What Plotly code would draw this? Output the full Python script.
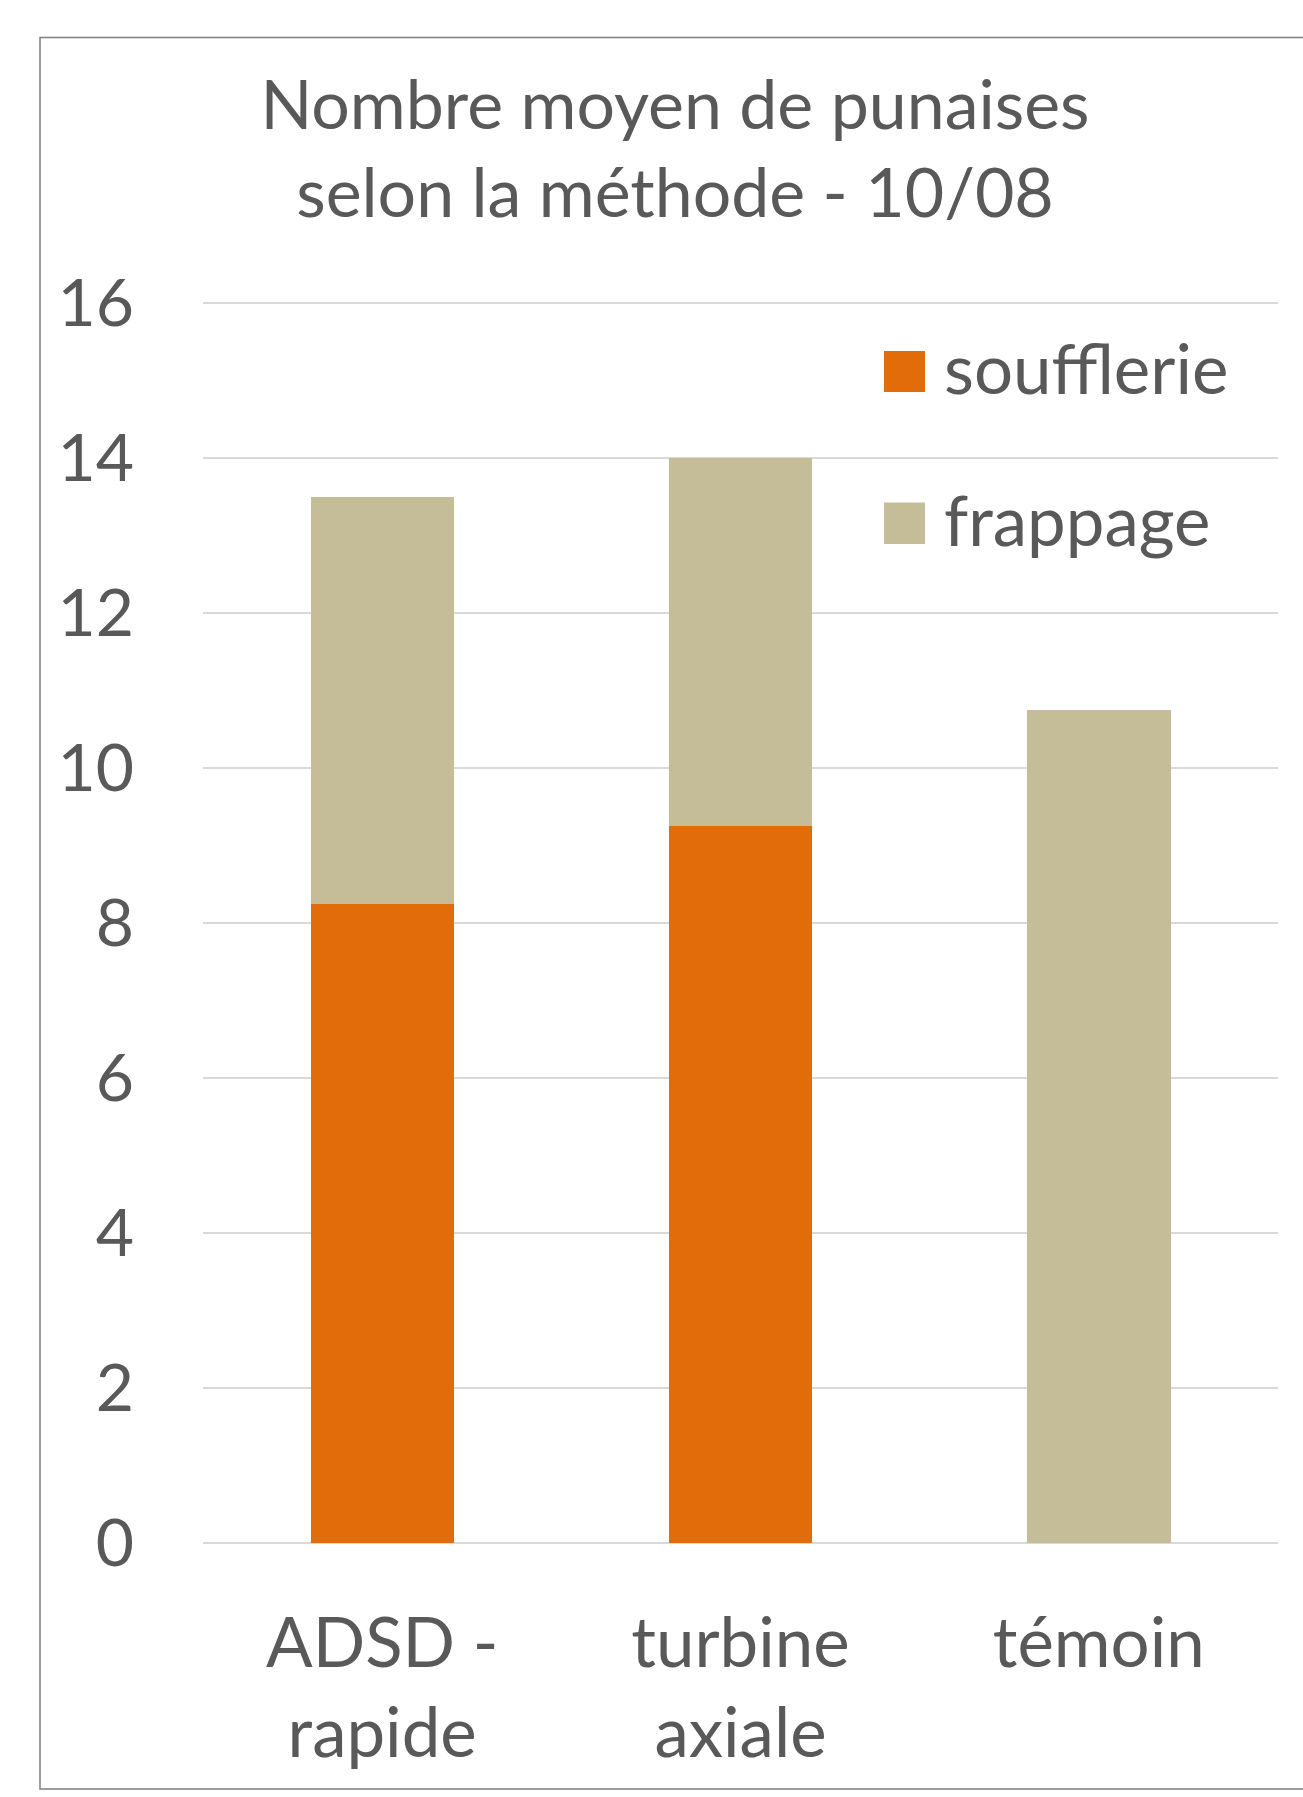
import plotly.graph_objects as go

# -----------------------------
# Data
# -----------------------------
categories = ["ADSD -<br>rapide", "turbine<br>axiale", "témoin"]
soufflerie = [8.25, 9.25, 0]
frappage = [5.25, 4.75, 10.75]

series_names = ["soufflerie", "frappage"]
series_colors = ["#E36C0A", "#C4BD97"]

y_ticks = [0, 2, 4, 6, 8, 10, 12, 14, 16]

TEXT_COLOR = "#595959"
FONT = "Lato"

# page geometry (pixels)
W, H = 1303, 1797
L, R, T, B = 203, 25, 299, 254
PW, PH = W - L - R, H - T - B


def px_x(x):
    return (x - L) / PW


def px_y(y):
    return (H - B - y) / PH


def main():
    fig = go.Figure()

    for name, vals, color in zip(series_names, [soufflerie, frappage], series_colors):
        fig.add_trace(
            go.Bar(
                x=categories,
                y=vals,
                name=name,
                marker=dict(color=color, line=dict(width=0)),
                showlegend=False,
            )
        )

    # frame around the whole chart
    fig.add_shape(
        type="rect", xref="paper", yref="paper",
        x0=px_x(40), x1=px_x(1320), y0=px_y(1789), y1=px_y(37.5),
        line=dict(color="#7F7F7F", width=1.5), fillcolor="rgba(0,0,0,0)",
        layer="below",
    )

    # legend drawn by hand (large square swatches)
    legend_rows = [(351, 392), (502.6, 544)]
    for (top, bot), name, color in zip(legend_rows, series_names, series_colors):
        fig.add_shape(
            type="rect", xref="paper", yref="paper",
            x0=px_x(884), x1=px_x(925), y0=px_y(bot), y1=px_y(top),
            line=dict(width=0), fillcolor=color,
        )
        fig.add_annotation(
            xref="paper", yref="paper",
            x=px_x(942), y=px_y((top + bot) / 2 - 4),
            xanchor="left", yanchor="middle",
            text=name, showarrow=False,
            font=dict(family=FONT, size=69, color=TEXT_COLOR),
        )

    fig.update_layout(
        width=W,
        height=H,
        barmode="stack",
        bargap=0.6,
        paper_bgcolor="white",
        plot_bgcolor="white",
        margin=dict(l=L, r=R, t=T, b=B),
        font=dict(family=FONT, color=TEXT_COLOR),
        title=dict(
            text="Nombre moyen de punaises<br>selon la méthode - 10/08",
            x=675 / W, xref="container", xanchor="center",
            y=1 - 129 / H, yref="container", yanchor="top",
            font=dict(family=FONT, size=68, color=TEXT_COLOR),
        ),
        xaxis=dict(
            showgrid=False, showline=False, zeroline=False,
            tickfont=dict(family=FONT, size=69, color=TEXT_COLOR),
            ticklabelstandoff=54,
        ),
        yaxis=dict(
            range=[0, 16.05],
            tickvals=y_ticks,
            showgrid=True, gridcolor="#D9D9D9", gridwidth=1.5,
            zeroline=True, zerolinecolor="#D9D9D9", zerolinewidth=1.5,
            showline=False,
            tickfont=dict(family=FONT, size=66, color=TEXT_COLOR),
            ticklabelstandoff=68,
        ),
    )

    # remove the browser's default body margin so the figure sits at (0, 0)
    fig.write_html(
        "out.html",
        config={"displayModeBar": False},
        post_script="document.body.style.margin='0';",
    )


if __name__ == "__main__":
    main()
